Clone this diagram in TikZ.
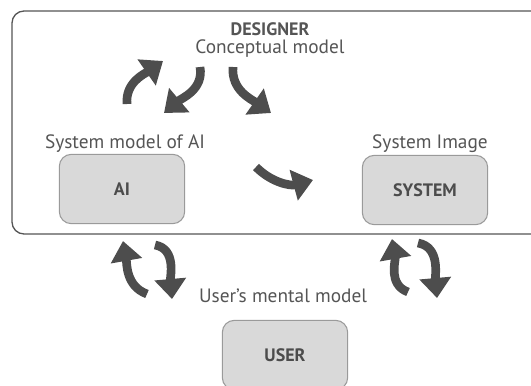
\documentclass[tikz,border=0pt]{standalone}
\usepackage{fontspec}
\setmainfont{PT Sans}
\usetikzlibrary{arrows.meta}

\definecolor{txtgray}{HTML}{555555}
\definecolor{boxfill}{HTML}{D9D9D9}
\definecolor{boxline}{HTML}{9A9A9A}
\definecolor{arrowgray}{HTML}{4D4D4D}

\tikzset{
  actorbox/.style={draw=boxline, fill=boxfill, rounded corners=9pt, line width=0.8pt,
    minimum width=94pt, minimum height=52pt, font=\bfseries\fontsize{13.5}{15}\selectfont,
    text=txtgray!90!black},
  modellabel/.style={font=\fontsize{14.5}{16}\selectfont, text=txtgray, anchor=base,
    inner sep=0pt},
  swoosh/.style={draw=arrowgray, line width=6.5pt,
    -{Triangle[length=15pt, width=23pt]}}
}

\begin{document}
\begin{tikzpicture}[x=0.75pt, y=-0.75pt]
	% page size, in pixels of the reference (y downwards)
	\useasboundingbox (0,0) rectangle (531,385);

	% designer frame (right side runs off the page)
	\draw[txtgray, line width=1pt, rounded corners=9pt] (12,11) rectangle (545,234);

	% the three boxes
	\node[actorbox] (ai) at (122,189) {AI};
	\node[actorbox] (system) at (425,190) {SYSTEM};
	\node[actorbox] (user) at (285,355) {USER};

	% labels (placed on their baselines)
	\node[modellabel, font=\bfseries\fontsize{13.5}{15}\selectfont] (designer) at (270,36) {DESIGNER};
	\node[modellabel] (concept) at (270,54) {Conceptual model};
	\node[modellabel] (aimodel) at (125,148) {System model of AI};
	\node[modellabel] (image) at (430,148) {System Image};
	\node[modellabel] (mental) at (283,302) {User's mental model};

	% ends of the swooshes
	\coordinate (c1s) at (127,104); \coordinate (c1e) at (163,61);
	\coordinate (c2s) at (200,67);  \coordinate (c2e) at (164,113);
	\coordinate (c3s) at (233,67);  \coordinate (c3e) at (271,113);
	\coordinate (c4s) at (256,167); \coordinate (c4e) at (313,180);
	\coordinate (u1s) at (147,294); \coordinate (u1e) at (123,241);
	\coordinate (u2s) at (155,245); \coordinate (u2e) at (172,299);
	\coordinate (s1s) at (408,292); \coordinate (s1e) at (392,239);
	\coordinate (s2s) at (418,243); \coordinate (s2e) at (437,298);

	% swooshes
	\draw[swoosh] (c1s) to[out=95, in=215] (c1e);
	\draw[swoosh] (c2s) to[out=-80, in=40] (c2e);
	\draw[swoosh] (c3s) to[out=-95, in=145] (c3e);
	\draw[swoosh] (c4s) to[out=-45, in=195] (c4e);
	\draw[swoosh] (u1s) to[out=160, in=-80] (u1e);
	\draw[swoosh] (u2s) to[out=-10, in=95] (u2e);
	\draw[swoosh] (s1s) to[out=160, in=-80] (s1e);
	\draw[swoosh] (s2s) to[out=-10, in=95] (s2e);
\end{tikzpicture}
\end{document}
